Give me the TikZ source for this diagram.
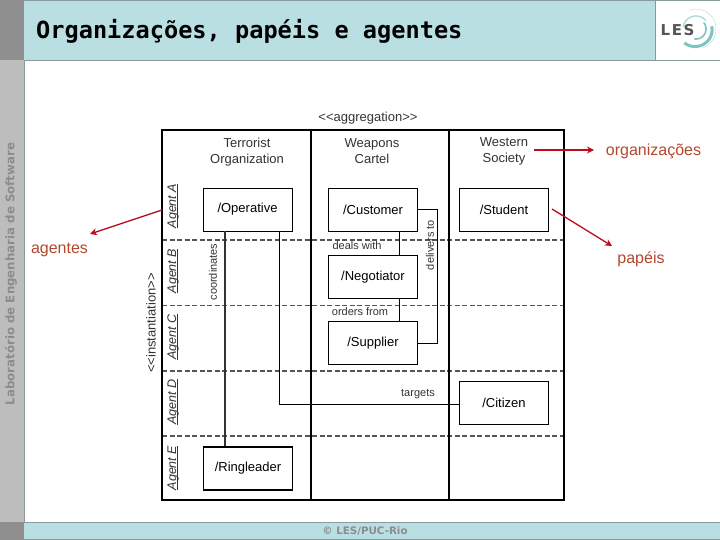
\documentclass[tikz,border=0pt]{standalone}
\usepackage{xcolor}
\usepackage{fontspec}
\usepackage{tikz}
\usetikzlibrary{arrows.meta, positioning, calc}
\setmainfont{Liberation Sans}
\newfontfamily\titlefont{DejaVu Sans Mono}[BoldFont={DejaVu Sans Mono Bold}]
\newfontfamily\sidefont{DejaVu Sans}[BoldFont={DejaVu Sans Bold}]
\definecolor{band}{HTML}{B9DFE3}
\definecolor{bandline}{HTML}{8A9A9C}
\definecolor{sidebar}{HTML}{BDBDBD}
\definecolor{corner}{HTML}{8F8F8F}
\definecolor{sidetext}{HTML}{8C8C8C}
\definecolor{darkgray}{HTML}{333333}
\definecolor{logotext}{HTML}{555555}
\definecolor{note}{HTML}{B5472F}
\definecolor{pointer}{HTML}{C00A20}
\definecolor{swirl}{HTML}{7FC4C0}
\tikzset{
  role/.style={
    rectangle, minimum width=89pt, minimum height=43pt,
    text centered, draw=black, line width=0.8pt,
    fill=white, font=\fontsize{13}{15}\selectfont, inner sep=0pt,
  },
  head/.style={
    align=center, text=darkgray, inner sep=0pt,
    font=\fontsize{13}{16}\selectfont,
  },
  agent/.style={
    rotate=90, text=darkgray, inner sep=0pt,
    font=\fontsize{12.5}{15}\selectfont\itshape,
  },
  relation/.style={text=darkgray, inner sep=0pt, font=\fontsize{11}{13}\selectfont},
  stereotype/.style={text=darkgray, inner sep=0pt, font=\fontsize{13}{15}\selectfont},
  remark/.style={text=note, inner sep=0pt, font=\fontsize{16}{18}\selectfont},
  grid/.style={draw=black, line width=1.4pt},
  lane/.style={draw=logotext, line width=1.2pt, dash pattern=on 5pt off 2.5pt},
  link/.style={draw=black, line width=0.8pt},
  pointerarrow/.style={-{Stealth[length=7pt,width=7pt]}, line width=1.3pt, color=pointer},
}
\begin{document}
\begin{tikzpicture}[x=1pt,y=-1pt]
  \useasboundingbox (0,0) rectangle (720,540);
  % page furniture
  \fill[white] (0,0) rectangle (720,540);
  \fill[sidebar] (0,0) rectangle (24,522);
  \fill[corner] (0,0) rectangle (24,60);
  \fill[corner] (0,522) rectangle (24,540);
  \fill[band] (24,0) rectangle (655,60);
  \draw[bandline] (24,60)--(720,60);
  \draw[bandline] (24,0.5)--(720,0.5);
  \draw[bandline] (655,0)--(655,60);
  \draw[bandline] (24,60)--(24,522);
  \fill[band] (24,522) rectangle (720,540);
  \draw[bandline] (24,522)--(720,522);
  \draw[bandline] (24,539.5)--(720,539.5);
  \node[anchor=west,inner sep=0pt,font=\titlefont\bfseries\fontsize{23.6}{26}\selectfont] (title) at (36,31) {Organizações, papéis e agentes};
  \node[rotate=90,text=sidetext,inner sep=0pt,font=\sidefont\bfseries\fontsize{11.8}{13}\selectfont] (lab) at (11,274) {Laboratório de Engenharia de Software};
  \node[text=sidetext,inner sep=0pt,font=\sidefont\bfseries\fontsize{10.3}{12}\selectfont] (copyright) at (365,531) {© LES/PUC-Rio};
  % logo
  \draw[swirl!50,line width=0.5pt] plot[domain=-110:70,samples=30] ({696+20*cos(\x)},{29+20*sin(\x)});
  \draw[swirl,line width=3pt] plot[domain=-10:130,samples=30] ({696+(16+\x/60)*cos(\x)},{29+(16+\x/60)*sin(\x)});
  \draw[swirl,line width=1.6pt] plot[domain=-40:100,samples=30] ({696+10*cos(\x)},{29+10*sin(\x)});
  \draw[swirl!70,line width=1.2pt] plot[domain=190:320,samples=30] ({696+13*cos(\x)},{29+13*sin(\x)});
  \node[text=logotext,inner sep=0pt,font=\sidefont\bfseries\fontsize{15}{17}\selectfont] (logo) at (677.5,30) {L\kern1.5pt E\kern1.5pt S};
  % swimlanes
  \foreach \y/\w in {240/1.2,305/0.9,371/1.2,436/1.2}
    \draw[lane,line width=\w pt] (162,\y)--(564,\y);
  \draw[grid] (162,130) rectangle (564,500);
  \draw[grid] (311,130)--(311,500);
  \draw[grid] (449,130)--(449,500);
  % labels round the grid
  \node[stereotype] (aggregation) at (368,118) {<{}<aggregation>{}>};
  \node[stereotype,rotate=90] (instantiation) at (151,323) {<{}<instantiation>{}>};
  \node[head] (terrorist) at (247,152) {Terrorist\\Organization};
  \node[head] (cartel) at (372,151) {Weapons\\Cartel};
  \node[head] (western) at (504,151) {Western\\Society};
  \node[agent] (agenta) at (177,206) {\underline{\smash{Agent A}}};
  \node[agent] (agentb) at (177,271) {\underline{\smash{Agent B}}};
  \node[agent] (agentc) at (177,337) {\underline{\smash{Agent C}}};
  \node[agent] (agentd) at (177,402) {\underline{\smash{Agent D}}};
  \node[agent] (agente) at (177,468) {\underline{\smash{Agent E}}};
  % roles
  \node[role] (operative) at (247.5,209.5) {/Operative};
  \node[role] (customer) at (373,209.5) {/Customer};
  \node[role,below=24pt of customer] (negotiator) {/Negotiator};
  \node[role,below=22pt of negotiator] (supplier) {/Supplier};
  \node[role] (student) at (504,209.5) {/Student};
  \node[role] (citizen) at (504,402.5) {/Citizen};
  \node[role,line width=1.5pt] (ringleader) at (248,468.5) {/Ringleader};
  % associations
  \draw[link,draw=darkgray,line width=1.1pt] ([xshift=-22.5pt]operative.south)--([xshift=-23pt]ringleader.north);
  \draw[link] ([xshift=31.5pt]operative.south) |- ([yshift=-1.5pt]citizen.west);
  \draw[link] ([xshift=26pt]customer.south)--([xshift=26pt]negotiator.north);
  \draw[link] ([xshift=26pt]negotiator.south)--([xshift=26pt]supplier.north);
  \draw[link] (customer.east)-- ++(19,0) |- (supplier.east);
  \node[relation] (dealswith) at (357,246) {deals with};
  \node[relation] (ordersfrom) at (360,312) {orders from};
  \node[relation] (targets) at (418,394) {targets};
  \node[relation,rotate=90] (deliversto) at (430,245) {delivers to};
  \node[relation,rotate=90] (coordinates) at (213,272) {coordinates};
  % remarks
  \node[remark] (agentes) at (59.5,250) {agentes};
  \node[remark] (organizacoes) at (653.5,151) {organizações};
  \node[remark] (papeis) at (641,259) {papéis};
  \coordinate (agentesfrom) at (162,210);
  \coordinate (agentesto) at (90,234);
  \coordinate (orgfrom) at (534,150);
  \coordinate (orgto) at (594,150);
  \coordinate (papeisfrom) at (552,209);
  \coordinate (papeisto) at (612,246);
  \draw[pointerarrow] (agentesfrom)--(agentesto);
  \draw[pointerarrow] (orgfrom)--(orgto);
  \draw[pointerarrow] (papeisfrom)--(papeisto);
\end{tikzpicture}
\end{document}
